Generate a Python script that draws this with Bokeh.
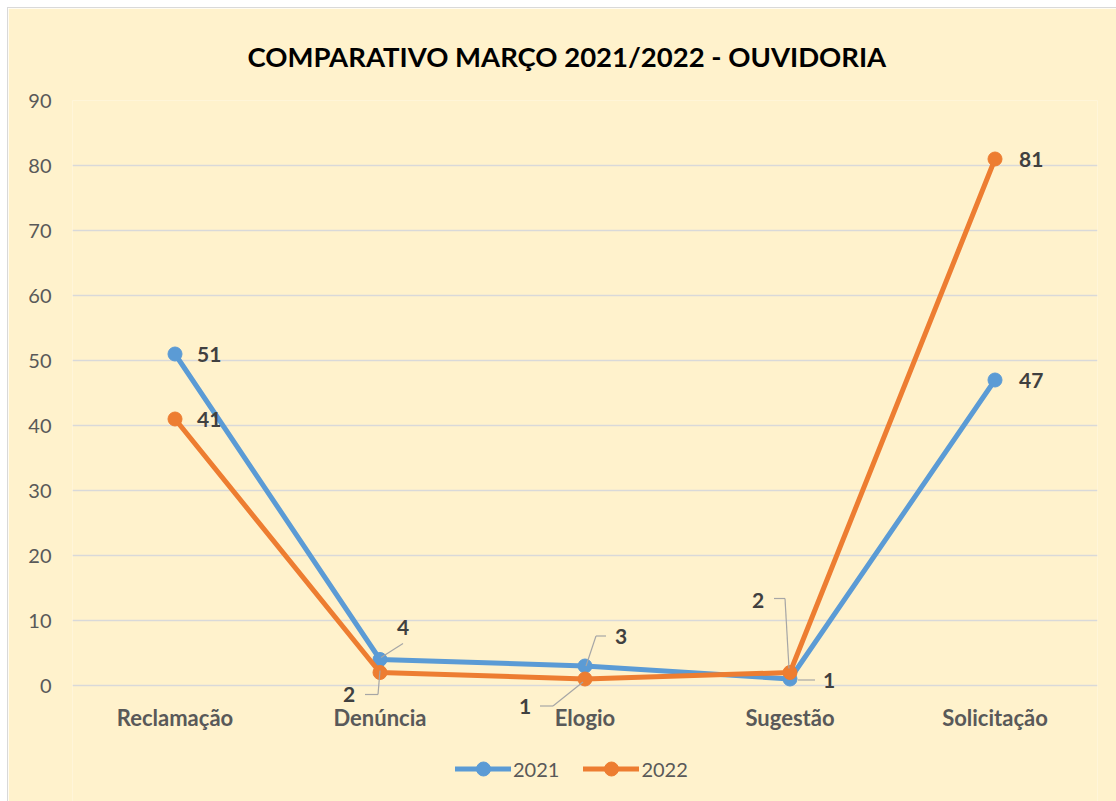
from bokeh.plotting import figure
from bokeh.models import (ColumnDataSource, LabelSet, Arrow, Legend, LegendItem,
                          FixedTicker, Range1d, Title)
from bokeh.core.properties import value
from bokeh.embed import file_html
from bokeh.resources import INLINE

# ---- data ----
categories = ["Reclamação", "Denúncia", "Elogio", "Sugestão", "Solicitação"]
values_2021 = [51, 4, 3, 1, 47]
values_2022 = [41, 2, 1, 2, 81]
series_names = ["2021", "2022"]
y_ticks = [0, 10, 20, 30, 40, 50, 60, 70, 80, 90]
title_text = "COMPARATIVO MARÇO 2021/2022 - OUVIDORIA"

# ---- styles ----
BLUE = "#5B9BD5"
ORANGE = "#ED7D31"
BG = "#FFF2CC"
GRID = "#D9D9D9"
TXT = "#595959"
LBL = "#404040"
LEADER = "#A6A6A6"
FONT = "Lato"

W, H = 1108, 793
ML, MR, MT, MB = 64, 19, 92, 0
frame_w = W - ML - MR
frame_h = H - MT - MB
px_y = 585 / 90.0            # pixels per unit on the value axis
y_top = 90
y_bottom = y_top - frame_h / px_y   # frame extends below 0 for labels/legend
px_x = frame_w / len(categories)

xs = [i + 0.5 for i in range(len(categories))]

p = figure(width=W, height=H, output_backend="svg", toolbar_location=None,
           x_range=Range1d(0, len(categories)), y_range=Range1d(y_bottom, y_top),
           x_axis_location=None,
           min_border_left=ML, min_border_right=MR, min_border_top=MT,
           min_border_bottom=MB, tools="")
p.styles = {"margin-left": "8px", "margin-top": "8px",
            "outline": "1px solid #D9D9D9"}
p.background_fill_color = BG
p.border_fill_color = BG
p.outline_line_color = None

p.title = Title(text=title_text, align="left", text_font=FONT,
                text_font_style="bold", text_font_size="27.5px",
                text_color="#000000", standoff=56, offset=175)

p.xgrid.grid_line_color = None
p.ygrid.grid_line_color = GRID
p.ygrid.grid_line_width = 1.3
p.yaxis.ticker = FixedTicker(ticks=y_ticks)
p.yaxis.axis_line_color = None
p.yaxis.major_tick_line_color = None
p.yaxis.minor_tick_line_color = None
p.yaxis.major_tick_out = 0
p.yaxis.major_tick_in = 0
p.yaxis.major_label_text_color = TXT
p.yaxis.major_label_text_font = FONT
p.yaxis.major_label_text_font_size = "20px"
p.yaxis.major_label_standoff = 21

# category labels under the value axis zero line
p.add_layout(LabelSet(x="x", y="y", text="t",
                      source=ColumnDataSource(dict(x=xs, y=[0] * len(xs),
                                                   t=categories)),
                      y_offset=-32, text_align="center", text_baseline="middle",
                      text_font=value(FONT), text_font_style="bold",
                      text_font_size="22px", text_color=TXT))

renderers = []
for vals, color in ((values_2021, BLUE), (values_2022, ORANGE)):
    src = ColumnDataSource(dict(x=xs, y=vals))
    l = p.line("x", "y", source=src, line_color=color, line_width=5,
               line_join="round", line_cap="round")
    s = p.scatter("x", "y", source=src, size=14, fill_color=color,
                  line_color=color)
    renderers.append((l, s))

# leader lines (pixel offsets relative to the points, y downwards)
leaders_2021 = [None, [(1, -2), (23, -16)], [(1, 0), (11, -30), (21, -30)],
                [(8, 1), (25, 1)], None]
leaders_2022 = [None, [(0, -2), (-2, 22), (-15, 22)],
                [(-2, 3), (-32, 27), (-45, 27)],
                [(-16, -74), (-5, -74), (-1, -4)], None]
seg = dict(x0=[], y0=[], x1=[], y1=[])
for vals, leaders in ((values_2021, leaders_2021), (values_2022, leaders_2022)):
    for x, v, pts in zip(xs, vals, leaders):
        if not pts:
            continue
        for (ax_, ay_), (bx_, by_) in zip(pts[:-1], pts[1:]):
            seg["x0"].append(x + ax_ / px_x)
            seg["y0"].append(v - ay_ / px_y)
            seg["x1"].append(x + bx_ / px_x)
            seg["y1"].append(v - by_ / px_y)
p.add_layout(Arrow(end=None, source=ColumnDataSource(seg), x_start="x0",
                   y_start="y0", x_end="x1", y_end="y1",
                   line_color=LEADER, line_width=1.2))

# data labels (pixel offsets: dx, dy downwards, align)
lab_2021 = [(22, 0, "left"), (23, -32, "center"), (36, -30, "center"),
            (39, 1, "center"), (24, 0, "left")]
lab_2022 = [(22, 0, "left"), (-31, 22, "center"), (-60, 27, "center"),
            (-32, -72, "center"), (24, 0, "left")]
for vals, labs in ((values_2021, lab_2021), (values_2022, lab_2022)):
    src = ColumnDataSource(dict(
        x=xs, y=vals, t=[str(v) for v in vals],
        dx=[l[0] for l in labs], dy=[-l[1] for l in labs],
        al=[l[2] for l in labs]))
    p.add_layout(LabelSet(x="x", y="y", text="t", source=src,
                          x_offset="dx", y_offset="dy", text_align="al",
                          text_baseline="middle", text_font=value(FONT),
                          text_font_style="bold", text_font_size="21px",
                          text_color=LBL))

legend = Legend(items=[LegendItem(label=n, renderers=list(r))
                       for n, r in zip(series_names, renderers)],
                orientation="horizontal", location=(383, 15),
                background_fill_alpha=0, border_line_color=None,
                label_text_font=FONT, label_text_font_size="20px",
                label_text_color=TXT, glyph_width=56, glyph_height=35,
                label_standoff=2, spacing=24, padding=5, margin=0)
p.add_layout(legend, "center")

open("out.html", "w").write(file_html(p, INLINE))
